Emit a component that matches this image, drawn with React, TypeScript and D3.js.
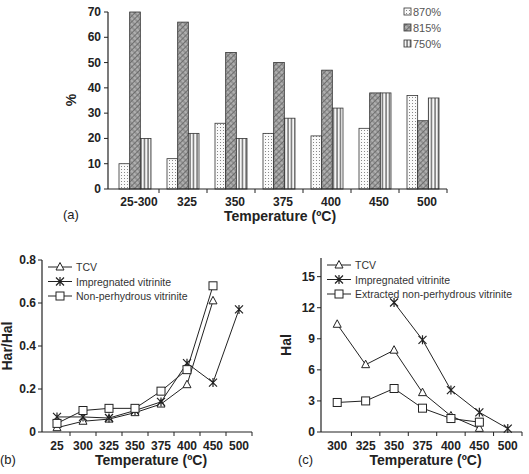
import React from "react";
import * as d3 from "d3";

// (a) distribution of fractions by temperature
const barCats = ["25-300", "325", "350", "375", "400", "450", "500"];
const barSeries = ["870%", "815%", "750%"];
const v870 = [10, 12, 26, 22, 21, 24, 37];
const v815 = [70, 66, 54, 50, 47, 38, 27];
const v750 = [20, 22, 20, 28, 32, 38, 36];
const barTicks = [0, 10, 20, 30, 40, 50, 60, 70];

// (b) Har/Hal ratio
const ratioCats = ["25", "300", "325", "350", "375", "400", "450", "500"];
const ratioTCV = [0.02, 0.05, 0.06, 0.09, 0.13, 0.22, 0.61, null];
const ratioImp = [0.07, 0.07, 0.065, 0.1, 0.14, 0.32, 0.23, 0.57];
const ratioNon = [0.04, 0.1, 0.11, 0.11, 0.19, 0.29, 0.68, null];
const ratioTicks = [0, 0.2, 0.4, 0.6, 0.8];
const ratioNames = ["TCV", "Impregnated vitrinite", "Non-perhydrous vitrinite"];

// (c) Hal
const halCats = ["300", "325", "350", "375", "400", "450", "500"];
const halTCV = [10.4, 6.5, 7.9, 3.8, 1.55, 0.35, null];
const halImp = [null, null, 12.5, 8.9, 4.05, 1.9, 0.33];
const halExt = [2.85, 3.0, 4.2, 2.3, 1.3, 0.95, null];
const halTicks = [0, 3, 6, 9, 12, 15];
const halNames = ["TCV", "Impregnated vitrinite", "Extracted non-perhydrous vitrinite"];

const FONT = "'Liberation Sans', Arial, sans-serif";
const INK = "#222";

type Shape = "tri" | "star" | "sq";

const Marker = ({ x, y, shape }: { x: number; y: number; shape: Shape }) => {
  const s = 4;
  if (shape === "tri")
    return (
      <path
        d={`M${x},${y - s - 0.5}L${x + s},${y + s - 1}L${x - s},${y + s - 1}Z`}
        fill="#fff"
        stroke={INK}
        strokeWidth={1}
      />
    );
  if (shape === "sq")
    return <rect x={x - s} y={y - s} width={2 * s} height={2 * s} fill="#fff" stroke={INK} strokeWidth={1} />;
  return (
    <path
      d={`M${x - s},${y - s}L${x + s},${y + s}M${x - s},${y + s}L${x + s},${y - s}M${x},${y - s - 0.5}L${x},${y + s + 0.5}`}
      stroke={INK}
      strokeWidth={1.2}
      fill="none"
    />
  );
};

const BarPanel = () => {
  const x0 = d3.scaleBand().domain(barCats).range([111, 447]).paddingInner(1 / 3).paddingOuter(1 / 6);
  const x1 = d3.scaleBand().domain(barSeries).range([0, x0.bandwidth()]);
  const y = d3.scaleLinear().domain([0, 70]).range([189, 12]);
  const vals = [v870, v815, v750];
  const fills = ["url(#dots)", "url(#hatch)", "url(#vlines)"];
  const step = x0.step();
  return (
    <g>
      {barCats.map((c, i) =>
        vals.map((arr, j) => (
          <rect
            key={c + j}
            x={(x0(c) as number) + (x1(barSeries[j]) as number)}
            y={y(arr[i])}
            width={x1.bandwidth()}
            height={y(0) - y(arr[i])}
            fill={fills[j]}
            stroke="#333"
            strokeWidth={0.8}
          />
        ))
      )}
      <line x1={108} x2={108} y1={12} y2={189} stroke={INK} strokeWidth={1.2} />
      <line x1={108} x2={447} y1={189} y2={189} stroke={INK} strokeWidth={1.2} />
      {barTicks.map((t) => (
        <g key={t}>
          <line x1={104} x2={108} y1={y(t)} y2={y(t)} stroke={INK} />
          <text x={101} y={y(t) + 4} textAnchor="end" fontSize={12} fontWeight="bold" fontFamily={FONT} fill={INK}>
            {t}
          </text>
        </g>
      ))}
      {barCats.map((c, i) => (
        <g key={c}>
          <line x1={111 + step * (i + 1)} x2={111 + step * (i + 1)} y1={189} y2={193} stroke={INK} />
          <text
            x={(x0(c) as number) + x0.bandwidth() / 2 + 4}
            y={206}
            textAnchor="middle"
            fontSize={12}
            fontWeight="bold"
            fontFamily={FONT}
            fill={INK}
          >
            {c}
          </text>
        </g>
      ))}
      <text
        transform="translate(76,100) rotate(-90)"
        textAnchor="middle"
        fontSize={14}
        fontWeight="bold"
        fontFamily={FONT}
        fill={INK}
      >
        %
      </text>
      <text x={280} y={221} textAnchor="middle" fontSize={14} fontWeight="bold" fontFamily={FONT} fill={INK}>
        Temperature (ºC)
      </text>
      <text x={63} y={219} fontSize={13} fontFamily={FONT} fill={INK}>
        (a)
      </text>
      {barSeries.map((s, j) => (
        <g key={s}>
          <rect x={404} y={8 + j * 16} width={7} height={7} fill={fills[j]} stroke="#333" strokeWidth={0.8} />
          <text x={413} y={16 + j * 16} fontSize={11} fontFamily={FONT} fill="#555">
            {s}
          </text>
        </g>
      ))}
    </g>
  );
};

type LineSpec = { vals: (number | null)[]; shape: Shape };

const LinePanel = ({
  cats,
  series,
  names,
  ticks,
  yMax,
  left,
  right,
  top,
  bottom,
  yLabel,
  tag,
  tagX,
  tickFmt,
}: {
  cats: string[];
  series: LineSpec[];
  names: string[];
  ticks: number[];
  yMax: number;
  left: number;
  right: number;
  top: number;
  bottom: number;
  yLabel: string;
  tag: string;
  tagX: number;
  tickFmt: (v: number) => string;
}) => {
  const x = d3.scaleBand().domain(cats).range([left + 2, right]);
  const y = d3.scaleLinear().domain([0, yMax]).range([bottom, top]);
  const cx = (c: string) => (x(c) as number) + x.bandwidth() / 2;
  const line = d3
    .line<[string, number | null]>()
    .defined((d) => d[1] !== null)
    .x((d) => cx(d[0]))
    .y((d) => y(d[1] as number));
  const mid = (left + right) / 2;
  return (
    <g>
      <line x1={left} x2={left} y1={top} y2={bottom} stroke={INK} strokeWidth={1.2} />
      <line x1={left} x2={right} y1={bottom} y2={bottom} stroke={INK} strokeWidth={1.2} />
      {ticks.map((t) => (
        <g key={t}>
          <line x1={left - 4} x2={left} y1={y(t)} y2={y(t)} stroke={INK} />
          <text x={left - 6} y={y(t) + 4} textAnchor="end" fontSize={12} fontWeight="bold" fontFamily={FONT} fill={INK}>
            {tickFmt(t)}
          </text>
        </g>
      ))}
      {cats.map((c, i) => (
        <g key={c}>
          {i > 0 && <line x1={x(c) as number} x2={x(c) as number} y1={bottom} y2={bottom + 4} stroke={INK} />}
          <text x={cx(c)} y={bottom + 18} textAnchor="middle" fontSize={12} fontWeight="bold" fontFamily={FONT} fill={INK}>
            {c}
          </text>
        </g>
      ))}
      <line x1={right} x2={right} y1={bottom} y2={bottom + 4} stroke={INK} />
      {series.map((s, k) => {
        const pts = cats.map((c, i) => [c, s.vals[i]] as [string, number | null]);
        return (
          <g key={k}>
            <path d={line(pts) || ""} fill="none" stroke={INK} strokeWidth={1} />
            {pts
              .filter((p) => p[1] !== null)
              .map((p) => (
                <Marker key={p[0]} x={cx(p[0])} y={y(p[1] as number)} shape={s.shape} />
              ))}
          </g>
        );
      })}
      {names.map((n, k) => (
        <g key={n}>
          <line x1={left + 6} x2={left + 30} y1={top + 7 + k * 14.5} y2={top + 7 + k * 14.5} stroke={INK} />
          <Marker x={left + 18} y={top + 7 + k * 14.5} shape={series[k].shape} />
          <text x={left + 34} y={top + 11 + k * 14.5} fontSize={10.5} fontFamily={FONT} fill="#333">
            {n}
          </text>
        </g>
      ))}
      <text
        transform={`translate(${left - 30},${(top + bottom) / 2}) rotate(-90)`}
        textAnchor="middle"
        fontSize={14}
        fontWeight="bold"
        fontFamily={FONT}
        fill={INK}
      >
        {yLabel}
      </text>
      <text x={mid + 4} y={bottom + 33} textAnchor="middle" fontSize={14} fontWeight="bold" fontFamily={FONT} fill={INK}>
        Temperature (ºC)
      </text>
      <text x={tagX} y={bottom + 32} fontSize={13} fontFamily={FONT} fill={INK}>
        {tag}
      </text>
    </g>
  );
};

export default function App() {
  return (
    <svg
      width={529}
      height={474}
      style={{ display: "block", position: "absolute", left: 0, top: 0, background: "#fff" }}
    >
      <defs>
        <pattern id="dots" width={3} height={3} patternUnits="userSpaceOnUse">
          <rect width={3} height={3} fill="#fafafa" />
          <rect x={1} y={1} width={1} height={1} fill="#888" />
        </pattern>
        <pattern id="hatch" width={4} height={4} patternUnits="userSpaceOnUse" patternTransform="rotate(45)">
          <rect width={4} height={4} fill="#b0b0b0" />
          <line x1={0} y1={0} x2={0} y2={4} stroke="#444" strokeWidth={1.2} />
          <line x1={0} y1={2} x2={4} y2={2} stroke="#666" strokeWidth={0.8} />
        </pattern>
        <pattern id="vlines" width={3.5} height={3} patternUnits="userSpaceOnUse">
          <rect width={3.5} height={3} fill="#f6f6f6" />
          <line x1={1} y1={0} x2={1} y2={3} stroke="#333" strokeWidth={1} />
        </pattern>
      </defs>
      <rect width={529} height={474} fill="#fff" />
      <BarPanel />
      <LinePanel
        cats={ratioCats}
        series={[
          { vals: ratioTCV, shape: "tri" },
          { vals: ratioImp, shape: "star" },
          { vals: ratioNon, shape: "sq" },
        ]}
        names={ratioNames}
        ticks={ratioTicks}
        yMax={0.8}
        left={42}
        right={252}
        top={260}
        bottom={432}
        yLabel="Har/Hal"
        tag="(b)"
        tagX={0}
        tickFmt={(v) => (v === 0 ? "0" : v.toFixed(1))}
      />
      <LinePanel
        cats={halCats}
        series={[
          { vals: halTCV, shape: "tri" },
          { vals: halImp, shape: "star" },
          { vals: halExt, shape: "sq" },
        ]}
        names={halNames}
        ticks={halTicks}
        yMax={16.8}
        left={321}
        right={522}
        top={258}
        bottom={432}
        yLabel="Hal"
        tag="(c)"
        tagX={298}
        tickFmt={(v) => String(v)}
      />
    </svg>
  );
}
